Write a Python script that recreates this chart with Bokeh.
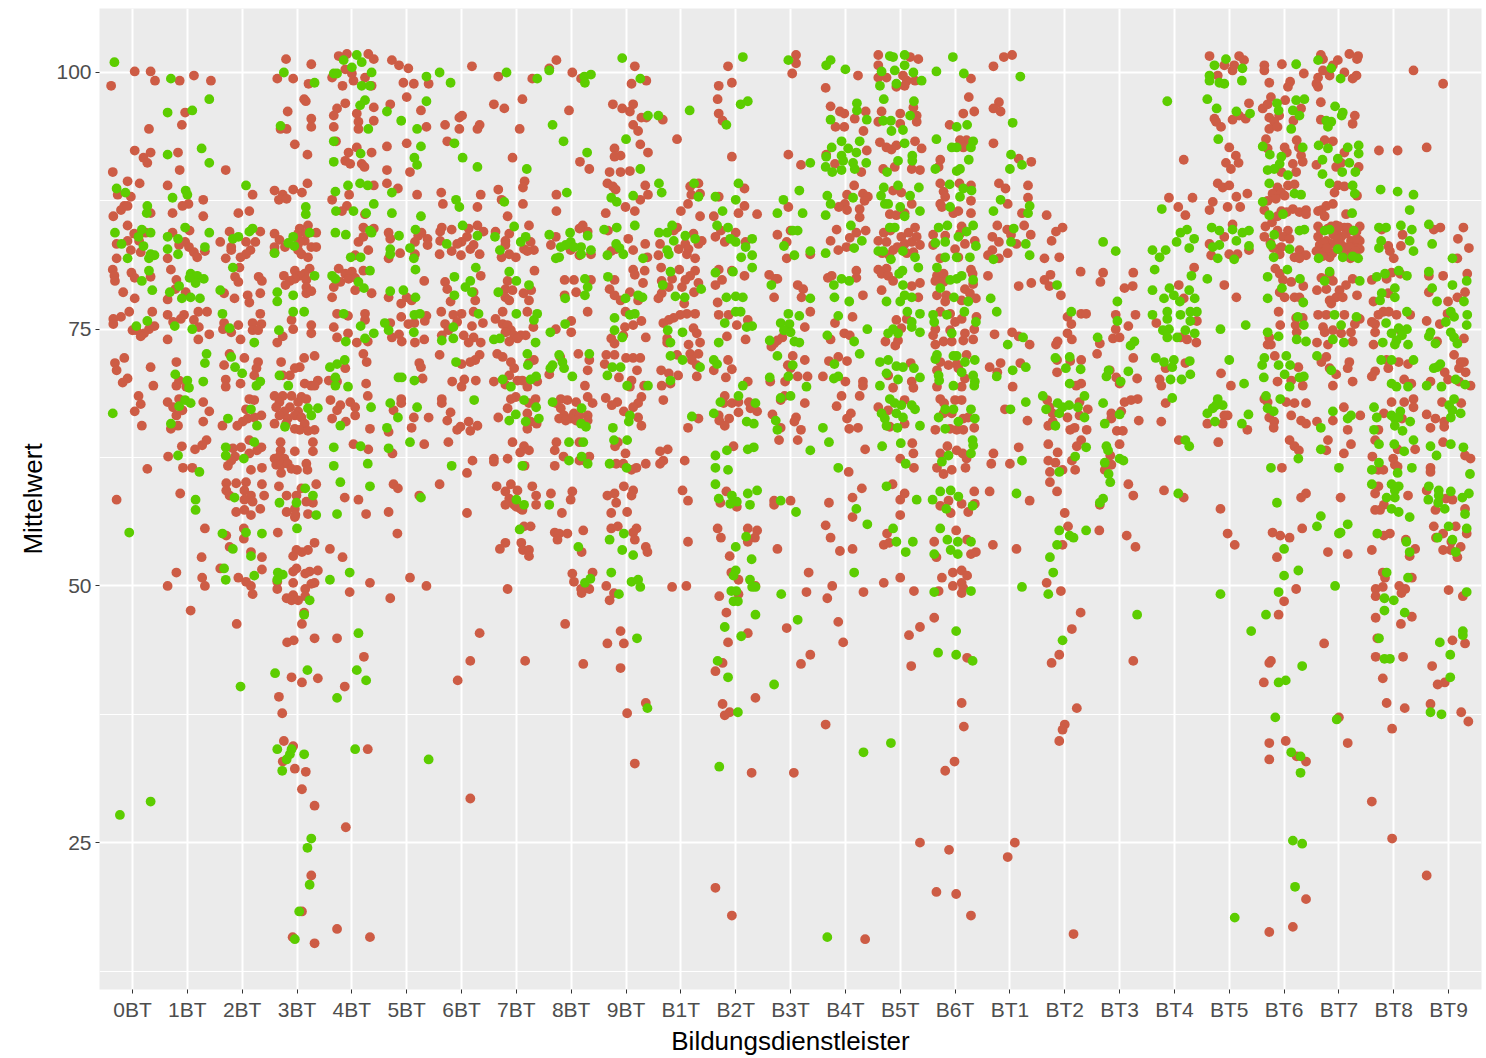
from bokeh.plotting import figure
from bokeh.models import ColumnDataSource, FixedTicker, Range1d
from bokeh.embed import file_html
from bokeh.resources import INLINE

categories = ["0BT","1BT","2BT","3BT","4BT","5BT","6BT","7BT","8BT","9BT","B1T","B2T","B3T","B4T","B5T","B6T","BT1","BT2","BT3","BT4","BT5","BT6","BT7","BT8","BT9"]
y_ticks = [25, 50, 75, 100]
y_minor = [12.5, 37.5, 62.5, 87.5]
x_title = "Bildungsdienstleister"
y_title = "Mittelwert"

red = {}
green = {}

red["0BT"] = [(-.39,98.7),(.04,100.1),(.33,100.1),(.41,99.2),(.3,94.5),(.04,92.4),(.33,92.2),(.2,91.7),(.27,91.2),(-.36,90.3),(-.09,89.4),(.13,89.2),(-.27,88.1),(-.03,87.9),(-.15,87),(-.21,86.6),(-.35,86),(-.09,87),(.33,86.3),(-.09,85.1),(.24,84.4),(.03,84.3),(-.09,83.6),(-.29,83.3),(.12,83.6),(-.03,82.7),(.15,82.5),(-.29,81.9),(-.36,80.8),(-.33,80.2),(-.32,79.7),(-.02,80.5),(.04,80),(.33,80.1),(-.17,78.6),(.04,78),(-.06,76.7),(-.21,76.2),(-.35,76),(-.35,75.5),(.36,76.7),(.4,75.3),(.3,75),(.21,74.6),(.15,74.3),(0,74.9),(.07,74.9),(-.15,72.2),(-.32,71.7),(-.29,71),(.33,71.3),(-.09,70.2),(-.18,69.8),(.38,69.5),(.11,68.5),(.15,67.7),(.04,67),(.17,65.6),(.27,61.4),(-.29,58.4)]
green["0BT"] = [(-.33,101),(.27,87),(.26,86.3),(-.29,88.7),(-.13,88.3),(-.32,84.4),(.17,84.7),(.11,84),(.33,84.4),(-.2,83.3),(.2,83.1),(-.09,81.9),(.3,81.9),(.4,82.2),(.33,82.3),(.3,80.7),(.17,79.7),(.36,78.8),(.07,75.3),(.27,75.8),(-.36,66.8),(-.06,55.2),(-.23,27.7),(.33,29)]

red["1BT"] = [(.12,99.7),(-.14,99.2),(.43,99.2),(-.04,96.1),(-.1,94.9),(-.17,92.2),(-.14,90.5),(-.36,89),(.29,87.6),(.02,87.2),(-.09,87),(.29,86),(-.27,86.3),(.04,84.6),(-.27,84.4),(-.04,83.5),(.03,83),(-.15,83.2),(.12,82.5),(.18,82),(.32,82.6),(-.36,81.9),(-.3,80.8),(-.2,79.8),(-.22,78.9),(-.03,78.6),(-.36,77.9),(-.36,76.4),(-.06,76.4),(-.12,76),(-.26,75.7),(.2,76.7),(.36,76.7),(.12,75.9),(.21,75.2),(.4,74.5),(.2,74),(-.36,74),(-.2,71.8),(-.15,70),(-.2,69.5),(-.02,69.4),(-.36,67.9),(-.15,68.2),(-.26,67.4),(-.09,67.1),(-.2,66.6),(.29,67.9),(.4,67),(.29,66),(-.17,65.6),(-.3,65.3),(-.1,63.6),(.35,64.2),(.27,63.7),(.14,63.3),(-.35,62.6),(-.08,61.5),(.09,61.5),(-.13,59),(.32,55.6),(.26,52.8),(-.2,51.3),(-.36,50),(.27,50.8),(.32,50),(.06,47.6)]
green["1BT"] = [(-.3,99.4),(.4,97.4),(-.36,96.1),(.09,96.3),(-.36,92),(.26,92.6),(.4,91.2),(-.03,88.5),(0,88.1),(-.27,87.8),(-.04,84.9),(.4,84.4),(-.36,84),(-.17,83.8),(.32,83),(-.36,82.8),(-.17,82.3),(.06,80.4),(.12,80),(.18,80.2),(.3,79.9),(.04,80),(.15,79.5),(-.15,79.2),(-.32,78.6),(-.1,78),(.06,78.1),(.23,78),(-.23,75.3),(.09,75),(.35,72.6),(.32,71.7),(-.22,70.6),(0,70),(.29,69.9),(.03,69.3),(-.04,68.1),(.06,67.8),(-.15,67.5),(-.3,65.8),(-.17,62.7),(.22,61.1),(.15,58.4),(.15,57.4)]

red["2BT"] = [(-.3,90.5),(-.07,86.3),(.13,86.5),(.19,88.1),(-.23,84.5),(.33,84.5),(-.4,83.5),(-.2,83),(-.2,82.7),(.07,83.5),(.24,83.5),(.15,82.7),(.07,82.3),(-.03,82),(-.3,81.9),(-.05,81),(-.13,80.1),(-.07,79.6),(.3,80.1),(.36,79.7),(-.33,78.5),(-.14,78),(.1,78.3),(.13,77.6),(.33,78.5),(.33,76.5),(-.33,75.6),(-.35,75),(-.2,74.7),(-.07,75.4),(.19,75.6),(.35,75.5),(.19,74.9),(.29,74.9),(-.03,74),(-.23,72.6),(.04,72.2),(-.33,71.5),(.29,71.8),(.26,71.2),(.22,70.5),(-.3,70.1),(-.3,69.4),(-.03,69.7),(.13,68.2),(.22,68.1),(.07,67.2),(.35,66.6),(.22,66.4),(.1,66.3),(.01,66),(-.09,65.6),(-.36,65.6),(.13,64.2),(.35,63.5),(.27,63.2),(.13,62.9),(-.02,63.5),(-.17,63.4),(-.13,62.6),(-.2,62.2),(-.26,61.7),(.16,61.3),(.36,61.5),(-.29,60),(-.11,60),(.07,60.1),(-.29,59.3),(-.23,58.8),(.04,59.3),(.16,58.8),(.36,59.9),(.4,58.8),(.04,58.4),(.19,58.2),(.33,57.5),(-.11,57.2),(.04,57.4),(.16,56.9),(.03,55.6),(.03,54.6),(-.29,54.9),(-.23,53.8),(.16,53.3),(.36,52.8),(.36,51.6),(-.4,51.7),(-.07,50.8),(.07,50.4),(.16,50),(.19,49.2),(-.1,46.3)]
green["2BT"] = [(.07,89),(-.17,81),(-.17,83.8),(-.07,84),(.13,84.5),(.19,84.8),(-.4,78.8),(-.36,76.5),(-.23,75.1),(.22,73.7),(-.2,72.3),(-.13,71.3),(0,70.7),(.33,69.9),(.26,69.5),(-.26,66.3),(.16,67.2),(.27,65.6),(.22,64),(-.3,63.5),(-.3,62.7),(.03,62.4),(-.14,58.6),(-.36,55.1),(.07,55.2),(.36,55.1),(-.17,53.6),(.16,52.9),(-.33,51.7),(-.3,50.6),(.22,51),(-.03,40.2)]

red["3BT"] = [(-.2,101.3),(.26,100.8),(-.36,99.4),(-.07,99.4),(.21,98.9),(.13,97.4),(.16,97.2),(-.17,96.2),(.26,95.5),(.26,94.7),(-.3,94.5),(-.19,94.5),(-.04,93),(.19,92),(-.41,88.5),(-.07,88.6),(.19,89.2),(.09,88.3),(-.26,88.1),(-.33,87.6),(-.19,87.7),(.05,84.8),(.2,85.1),(.35,84.4),(-.41,84.3),(-.32,83.7),(-.41,83),(-.22,83),(-.41,82.5),(.02,84.3),(.14,83.6),(.02,83.3),(.26,83),(.35,83),(.08,82.3),(.2,82),(.02,82.7),(.17,84.3),(.05,83.6),(-.04,80.7),(.23,80.9),(.14,80.4),(.05,80.2),(-.04,79.9),(-.24,80.2),(-.13,79.7),(-.21,79.3),(.17,79.8),(.17,79.1),(.17,78.5),(.26,78.7),(-.1,75.9),(-.07,75),(-.26,74.3),(-.36,73.7),(.26,75.4),(.26,74.6),(-.29,71.8),(.13,72.2),(.32,72.4),(.05,71.3),(-.04,71.2),(-.13,70.5),(-.26,70.5),(.14,69.7),(.26,69.5),(.38,70),(.32,69.5),(-.41,68.5),(-.26,68.5),(-.1,68.5),(.08,68.4),(-.32,67.9),(.02,67.9),(.17,68.2),(-.38,67.4),(-.13,67.4),(-.23,67),(-.32,66.6),(.02,67),(-.17,66.3),(-.04,66.6),(.08,66.4),(-.2,65.8),(-.41,65.8),(.14,65.8),(-.04,65.3),(.05,65.2),(.32,65.2),(.2,65.1),(-.3,64),(.29,64),(.29,63.1),(-.04,63.1),(-.3,63.2),(-.41,62.4),(-.32,62.6),(-.23,62.4),(-.38,61.8),(-.29,61.8),(-.17,61.9),(-.1,61.4),(0,61.3),(.17,61.9),(.19,61.3),(-.29,61),(-.33,59.7),(.35,59.9),(-.19,58.8),(-.01,58.8),(.08,59.5),(.29,58.1),(.17,58.2),(-.19,57.2),(-.04,57.5),(-.04,56.7),(.2,57),(-.35,55.2),(-.03,56.9),(.32,54.2),(.2,53.5),(.09,53.3),(-.01,53.5),(-.07,52.9),(-.01,51.7),(-.07,51.4),(.38,51.5),(.23,51.4),(.15,51.2),(-.36,50.4),(-.07,50.3),(.32,50.3),(.26,50.2),(.15,49.7),(-.36,49.7),(-.19,48.8),(-.07,49.1),(-.1,48.6),(.02,48.6),(.15,49),(.13,47.4),(.09,46.3),(.32,44.9),(-.06,44.7),(-.18,44.5),(-.1,41.1),(.09,40.6),(.38,41),(-.33,39.2),(-.27,37.6),(-.24,34.9),(-.07,34.4),(-.26,32.9),(-.04,32.2),(.16,31.9),(.09,30.2),(.32,28.6),(.26,21.8),(.09,18.3),(-.08,15.8),(.32,15.2)]
green["3BT"] = [(-.24,100),(.32,99),(-.3,94.8),(.16,86.9),(.16,86.2),(-.07,84),(.23,84.4),(-.16,83.4),(-.05,83.1),(-.41,82.4),(.32,80.2),(-.36,78.6),(-.36,77.7),(-.07,78.3),(-.07,76.7),(.13,76.7),(-.33,74.9),(-.32,70.5),(-.16,69.5),(.2,67.3),(.38,67.3),(.26,66.6),(-.22,65.5),(-.32,58.1),(-.01,58.1),(.15,59.5),(.29,58.8),(.35,56.9),(0,55.6),(-.35,51.3),(-.26,51.1),(-.36,50.6),(.23,48.6),(.13,47.2),(.19,41.8),(-.4,41.5),(-.36,34.1),(-.1,34.1),(-.13,33.6),(-.19,33.1),(.13,33.6),(-.27,32),(.26,25.4),(.19,24.5),(.23,20.9),(.04,18.3),(-.04,15.6)]

red["4BT"] = [(-.24,101.6),(-.09,101.8),(.3,101.8),(.4,101.3),(-.36,99.5),(-.12,100.3),(.03,99.2),(.24,99.5),(-.17,98.7),(.36,98.7),(0,99.9),(-.12,97),(-.27,96.5),(-.33,95.8),(.4,96.6),(.09,96),(.12,95.2),(.4,95.3),(-.33,94.7),(.12,94.5),(-.29,93.3),(.09,92.7),(-.06,92.2),(-.12,91.4),(-.03,91.1),(.36,92.2),(.18,91.1),(.23,90.8),(.4,89),(-.05,88.1),(-.36,87.6),(-.09,87),(-.18,86.5),(.24,86.2),(.21,84.9),(.12,83.5),(.21,84),(.3,82.7),(.06,82.2),(.4,84.8),(-.24,80.9),(0,80.6),(-.12,80.4),(.21,80.7),(-.21,79.6),(-.06,79.9),(-.33,79.1),(.06,80),(-.36,78.1),(.06,78.8),(.36,78.5),(-.27,76.5),(-.07,76.3),(.24,76.5),(.24,75.9),(-.33,75.2),(-.27,74.2),(-.07,74.6),(.09,73.7),(.29,73.8),(.21,72.6),(.27,71.8),(-.12,71.2),(-.42,70),(-.27,69.9),(.26,69.7),(.29,68.5),(-.39,68.1),(-.21,67.6),(-.03,67.9),(.06,67.4),(-.27,67.1),(-.36,66.3),(.06,66.6),(-.11,66),(.33,65.3),(.03,63.8),(.3,63.3),(-.13,58.6),(.12,58.4),(.26,57),(-.4,53.6),(-.17,52.8),(.33,50.3),(-.04,49.4),(-.27,44.9),(.22,43.1),(-.13,40.2),(.29,34.1),(-.11,26.5),(-.27,16.6),(.33,15.8)]
green["4BT"] = [(.09,101.7),(-.15,101.2),(.18,101),(0,100.5),(.36,100),(-.33,99.9),(-.27,99.9),(.18,98.7),(.33,98.7),(.24,97.3),(.15,96.8),(.3,94.5),(-.33,93.3),(.16,92.1),(-.33,91.3),(-.3,88.4),(-.07,89),(.15,89.2),(.29,89),(.4,87.2),(-.29,86.5),(.03,86.5),(.26,86.3),(-.3,84.4),(-.11,84.2),(.33,84.6),(.36,84.4),(-.02,82),(.16,82),(.33,80.7),(-.36,80.2),(-.3,79.9),(.12,79.6),(.22,79),(-.15,76.5),(.16,75.3),(.4,74.6),(-.11,73.8),(.24,74.1),(-.13,72),(-.27,71.6),(-.4,71.3),(-.3,70.3),(-.3,69.5),(-.07,69.4),(.35,67.4),(-.21,65.6),(-.33,63.5),(.16,63.6),(-.33,61.7),(.29,61.9),(-.21,60.1),(.33,59.7),(-.27,57),(-.04,51.3),(-.4,50.6),(.12,45.4),(.09,41.8),(.26,40.8),(-.27,39.1),(.06,34.1)]

red["5BT"] = [(-.27,101.2),(-.14,100.7),(.03,100.4),(-.06,99),(.13,98.9),(.4,98.9),(0,97.6),(-.3,96.9),(.26,96.3),(.36,94.7),(-.36,92.8),(0,93.1),(-.36,90.5),(.06,90.3),(-.36,89.2),(-.16,88.7),(.19,88.1),(-.33,84.4),(-.3,83.8),(.21,84.1),(.27,84.4),(.38,83.8),(.15,83.5),(.38,83.2),(-.12,82.4),(.15,82.3),(-.33,81.9),(.32,79.7),(-.33,78.1),(-.1,77.5),(0,78.1),(.09,77.8),(-.1,76.2),(-.3,75.6),(.03,75.5),(.14,75.6),(.36,76.3),(.33,75.8),(-.27,74.2),(-.14,74.5),(-.09,73.8),(.15,73.7),(.32,74),(.23,71.7),(.26,71.3),(.29,70.2),(-.1,68.2),(-.1,67.8),(-.24,67.1),(.13,66.4),(.4,66.4),(.09,65.4),(-.33,65),(.32,63.8),(-.26,62.9),(-.24,59.9),(-.16,59.5),(.23,58.8),(-.33,57.2),(-.17,55.1),(.06,50.8),(.36,50),(-.3,48.8)]
green["5BT"] = [(.36,99.6),(.36,97.2),(-.36,96.2),(-.1,95.3),(.19,94.5),(.26,92.8),(.14,91.7),(.19,91),(-.27,88.3),(-.27,86.3),(.26,86),(.16,84.7),(-.14,84.1),(.06,82.9),(-.3,82.8),(-.3,82.3),(.13,81.9),(.16,80.8),(-.3,78.7),(-.06,78.8),(.16,78.1),(-.4,75.6),(-.33,74.9),(.13,74.7),(.14,76.4),(.24,76.5),(-.15,70.3),(-.09,70.3),(.14,70),(-.3,67.8),(-.16,66.4),(.19,67.4),(-.36,65.4),(-.33,63.4),(.06,64),(.26,58.6),(.4,33.1)]

red["6BT"] = [(.19,100.6),(-.04,95.6),(.01,95.8),(-.04,94.5),(-.3,94.9),(.33,94.9),(.29,94.5),(-.26,93.3),(-.37,88.3),(.35,88.1),(-.34,87.2),(.29,86.9),(-.36,84.9),(-.18,84.7),(-.39,84.5),(-.39,83.6),(.13,84.8),(.29,85.1),(.4,84.5),(.1,84),(0,83.5),(-.08,83.3),(-.18,82.6),(-.4,82.3),(-.01,82.2),(.16,82.8),(.33,82.3),(.22,83.2),(.35,80.2),(-.3,79.6),(-.26,78.9),(-.2,77.7),(.22,78.6),(.25,77.8),(-.37,76.7),(.22,76.7),(0,76.5),(-.15,76.4),(-.3,75.5),(-.08,75.7),(.39,75.6),(.19,75.3),(-.24,74.9),(-.36,74.4),(.04,74.4),(.22,74.2),(.13,73.7),(.35,73.7),(-.4,72.5),(.33,72.5),(.25,72),(.16,71.8),(0,71.6),(.05,70.1),(-.17,69.9),(.26,70),(0,69.4),(-.36,68.2),(-.36,67.8),(-.2,66.9),(-.26,66.1),(.13,66),(-.02,65.5),(-.08,65.2),(.29,65.6),(.16,65.1),(-.24,64),(.2,62.2),(.1,61),(-.4,59.9),(.1,57.1),(.33,45.4),(.16,42.7),(-.07,40.8),(.16,29.3)]
green["6BT"] = [(-.4,100),(-.2,99),(-.13,93.1),(.02,91.7),(.29,90.8),(-.1,87.6),(-.04,86.9),(.02,85.1),(-.27,83.3),(.29,84.1),(.26,81),(-.13,80.1),(.07,79.1),(.16,79.7),(.19,78.6),(-.13,78.3),(-.15,75.2),(.31,76.5),(-.15,74.1),(-.36,73.9),(-.1,71.8),(.23,68.1),(-.18,61.7)]

red["7BT"] = [(-.33,99.6),(.29,99.4),(.11,97.4),(-.41,96.9),(-.22,96.5),(.06,94.5),(-.07,91.7),(.15,89.4),(.12,88.8),(-.33,88.6),(-.27,87.6),(.12,87.2),(-.16,86),(.23,85.1),(-.38,84.5),(-.13,84.3),(-.2,83.6),(.26,83.5),(.14,82.8),(-.2,83.2),(-.01,82),(-.27,82),(-.13,82.3),(.32,82.7),(.2,82.6),(.33,80.7),(-.16,79.7),(-.2,78.9),(-.07,78.8),(-.2,78.1),(-.13,77.8),(.27,78.8),(.13,78.5),(.23,77.8),(-.25,76.7),(-.38,76),(-.25,75.5),(-.16,75.4),(-.1,74.9),(-.2,74.7),(.08,74.4),(-.04,74.4),(-.13,73.8),(.17,74.4),(.2,76.7),(.31,75.2),(.02,74.1),(-.35,72.6),(-.25,72.3),(-.1,71.8),(-.04,71.2),(-.13,70.5),(.32,72),(.23,71.7),(.02,70),(-.2,69.6),(-.41,69.9),(.11,70),(.2,69.4),(.38,69.9),(-.01,68.4),(-.1,68.2),(.35,68.2),(-.16,67.3),(.23,67.8),(.2,66.8),(-.33,66.4),(.26,66),(.37,65.8),(.2,65.3),(-.07,64),(.14,63.6),(.07,63),(.23,63.2),(-.41,62.4),(-.41,62.1),(-.16,62.4),(.15,61.7),(-.36,59.7),(-.1,59.9),(-.2,59.2),(.02,59.3),(-.13,58.5),(-.2,57.9),(-.04,57.9),(.29,59.7),(.36,58.8),(.36,57.9),(.08,57.5),(0,57.7),(.11,57.4),(.14,55.8),(.26,55.8),(-.2,54.2),(-.3,53.6),(.09,54.2),(.12,53.5),(.23,53.5),(.23,52.9),(-.16,49.7),(.16,42.7)]
green["7BT"] = [(-.18,100),(.19,90.6),(-.22,87.4),(-.04,85),(-.39,84),(.17,84),(.08,83.5),(-.3,82.7),(-.13,80.6),(0,79.7),(.23,79.3),(-.33,78.6),(0,76.5),(.38,76.5),(.32,75.9),(-.3,74.1),(-.41,74),(.35,73.7),(.2,72.6),(.21,71.5),(.36,70.4),(.26,70.1),(-.25,70.1),(-.1,69.4),(.14,68.1),(.36,67.4),(.41,66.3),(-.01,66.7),(-.13,66.1),(.17,66),(.11,61.7),(0,58.4),(.14,57.9),(.06,55.5),(.38,99.4)]

red["8BT"] = [(-.27,101.2),(-.4,100.4),(.02,100),(.18,99.4),(-.04,96.3),(-.27,88.1),(-.27,86.5),(.33,90.6),(.16,91.3),(.21,85.1),(.3,84.5),(-.28,84),(-.37,83.2),(-.01,82.7),(.15,82.2),(.36,82.3),(.15,84.8),(-.12,79.8),(.05,79.8),(.36,79.8),(-.12,78.3),(.09,78.6),(.3,76.7),(0,75.8),(-.28,75),(0,74.7),(.13,72.6),(-.2,72.3),(.33,72),(.3,71),(-.4,70.6),(.25,69.5),(-.19,68.2),(-.07,68.1),(.09,67.9),(.3,68.4),(.39,67.8),(-.28,67.8),(-.19,67.3),(-.13,66.6),(-.22,66.3),(.05,66.8),(-.01,66.3),(.15,66.6),(.3,66.6),(-.1,66.1),(.09,66.1),(.3,66.1),(-.27,64),(-.3,63.2),(.15,64),(-.14,62.6),(.33,62.6),(.15,62.2),(.24,62.2),(-.3,61.7),(-.37,59),(.02,59.2),(-.01,58.4),(-.17,57.1),(-.3,55.2),(-.22,55.1),(-.07,55.1),(-.25,54.5),(.22,55.4),(.19,53.3),(.02,51.2),(.05,50.4),(.39,51.3),(.18,49.7),(.19,49.3),(.33,49.7),(-.11,46.3),(.22,42.4)]
green["8BT"] = [(-.4,100.2),(.24,99.6),(.36,99.8),(.25,99),(-.34,94.9),(-.14,93.3),(.29,92.2),(-.08,88.3),(-.4,84.2),(-.02,84.4),(.3,84.1),(-.19,83),(-.1,83.2),(-.01,83.5),(-.28,81.9),(-.22,82),(.18,83),(.05,83),(.36,82.7),(.18,82.3),(.25,79.9),(.3,79.1),(.25,78.3),(-.11,78),(-.11,75.5),(-.38,74.7),(-.22,72.5),(-.16,71.8),(-.13,71.2),(-.34,71.5),(-.38,71.2),(.33,72.6),(.02,70.4),(-.34,67.9),(.19,67.3),(.18,65.8),(.27,65.5),(-.04,64),(.22,64),(-.04,62.2),(.19,62.6),(.3,61.9),(-.4,57.9),(.13,53.8),(.25,50.3),(.35,50.7)]

red["9BT"] = [(.16,100.6),(.1,98.9),(.37,99.2),(-.24,96.9),(-.07,96.5),(.13,96.9),(.07,96.2),(.37,95.6),(.28,95.6),(.13,94.9),(.22,94.3),(.26,93),(.4,92.2),(-.21,92.6),(-.21,91.8),(-.1,91.9),(-.3,90.3),(-.1,90.3),(.07,90.4),(-.34,89.2),(-.24,88.9),(-.19,88.6),(.35,89),(.4,88.1),(.26,87.6),(-.01,86.9),(.16,86.5),(-.37,86.3),(-.33,84.6),(.04,83.8),(.35,83.3),(-.18,82.8),(-.27,82.6),(.13,82.7),(.39,82),(.13,80.8),(.34,80.7),(.16,80.3),(.31,79.5),(-.21,79.8),(-.3,78.9),(-.21,78.3),(-.1,77.8),(.07,78.6),(.22,77.8),(-.01,76.7),(.28,75.8),(.13,75.4),(-.02,75.2),(-.05,74.4),(-.27,74.1),(-.21,73.6),(.36,74.2),(-.36,72.5),(-.21,72.5),(0,72.2),(.13,72.2),(.26,72.2),(-.39,71.6),(.2,71),(.1,70),(-.13,70.3),(.33,69.5),(.07,69.4),(-.37,68.3),(-.16,67.9),(-.26,67.6),(.28,68.4),(.22,67.8),(.13,67.4),(-.04,67),(.22,66.4),(.28,65.6),(-.15,64),(-.2,63.6),(-.01,62.9),(-.18,61.9),(-.05,61.9),(.19,61.5),(.1,61.3),(.36,61.9),(-.04,59.7),(.13,59.3),(.1,58.8),(-.34,58.8),(-.21,59),(-.18,58.1),(-.27,57.1),(.02,57.2),(-.27,55.6),(-.15,55.8),(.19,55.6),(.13,55.2),(.16,54.5),(.36,53.8),(.39,53.3),(-.36,50),(-.22,49.3),(-.3,48.6),(-.1,45.6),(-.34,44.4),(-.04,44.4),(-.1,42),(.36,38.6),(.02,37.6),(.16,32.7)]
green["9BT"] = [(-.07,101.4),(.26,99.4),(.4,95.8),(0,93.5),(.26,90.6),(.13,88),(-.27,87.8),(-.17,87.4),(.16,85.1),(-.4,84.7),(-.17,84.9),(-.18,83.3),(-.12,82.9),(-.05,82.3),(-.34,82.2),(.31,81.9),(-.33,80.1),(-.01,78),(.22,78.3),(.3,78.1),(-.21,76.1),(.07,76.4),(.16,76.5),(-.21,74.9),(-.07,74.2),(-.25,71.3),(-.1,71.3),(-.34,70.5),(.02,69.5),(.4,69.5),(.07,66.6),(.05,66),(-.24,65.4),(-.22,64.2),(.02,64.2),(-.3,61.9),(.01,61.5),(-.04,55.1),(-.3,54.5),(-.07,53.5),(.13,53),(-.27,51.3),(.1,50.4),(.22,50.6),(.26,49.9),(-.13,49.2),(.2,44.9),(.39,38.1)]

red["B1T"] = [(-.33,95.4),(-.07,93.5),(.32,89.2),(.17,88.9),(.35,88.2),(.19,88.1),(.13,87.2),(0,86.5),(.35,86),(-.07,84.9),(-.13,84.6),(.23,84.3),(.38,83.6),(-.38,83.3),(.32,83.3),(.08,83.3),(-.04,82.8),(.14,82.8),(-.41,82.2),(.26,81.9),(.11,82.3),(-.36,81),(-.03,80.8),(.26,80.7),(.17,80.2),(.08,79.8),(-.16,79.9),(-.35,79.7),(.02,79.1),(-.22,79.1),(.32,79.5),(-.35,78.5),(-.41,78),(.24,78.6),(.06,77.5),(.26,76.5),(.11,76.5),(-.01,76.4),(-.13,76.1),(-.22,75.9),(-.32,75.6),(.23,75.1),(.29,74.6),(.35,73.7),(-.25,74.1),(-.25,73.7),(.14,73.5),(-.07,72.5),(.17,72.6),(.32,72.6),(.2,72),(.29,71.5),(-.36,71),(-.22,70.7),(-.05,70.5),(.29,70.4),(-.35,69.5),(-.19,69.7),(-.32,68.1),(.32,66.3),(.13,65.4),(-.24,63.3),(-.38,63.1),(-.32,62.2),(-.38,61.9),(.07,62.2),(.03,59.3),(.13,58.3),(.13,54.3),(-.16,49.9),(.1,50)]
green["B1T"] = [(.16,96.3),(-.41,95.8),(-.4,89.2),(-.35,88.3),(.24,89.2),(.32,87.9),(-.16,85.1),(-.4,84.4),(-.25,84.4),(-.13,83.6),(.08,84.1),(.26,83.8),(-.22,82.3),(-.25,82.7),(-.19,80.6),(-.33,79.3),(.37,78.9),(-.1,78.2),(.07,78.1),(-.24,74.9),(.03,74.7),(-.19,73.7),(-.19,72.4),(.03,72),(.35,71.3),(-.19,70),(.2,66.5)]

red["B2T"] = [(-.14,100.6),(-.07,99),(-.31,98.7),(-.33,97.4),(-.31,96),(-.24,95.3),(-.07,91.8),(.16,88.7),(-.31,87.9),(.16,87),(.05,86.3),(.39,86.2),(-.4,86),(-.27,84.6),(0,84.4),(-.37,84),(-.2,83.5),(.18,83.5),(.16,80.2),(-.31,80.8),(-.25,79.8),(-.37,79.3),(-.07,80.7),(-.33,77.6),(-.31,76.4),(-.13,76.4),(.22,75.9),(.02,75.4),(-.16,74.3),(.18,74),(-.14,72),(-.07,71.1),(-.4,71),(-.18,70.3),(.22,69.9),(-.2,68.5),(-.22,67.8),(-.07,67.8),(.05,67.9),(.24,67.9),(.27,67.3),(.39,67),(.05,66.9),(-.31,66.6),(-.12,66.3),(-.3,66.1),(-.2,65.6),(-.04,63.6),(-.17,59.2),(-.28,58.1),(.02,57.7),(-.33,55.6),(-.27,54.7),(.22,55.6),(.39,55.4),(.35,54.7),(.22,54.3),(-.11,52.9),(-.08,51.3),(.05,50.6),(.36,50),(.05,49.2),(-.3,49),(-.17,47.4),(.22,45.4),(-.14,44.5),(-.24,42.5),(-.37,41.7),(.36,39.1),(-.24,38.5),(-.11,37.7),(-.2,37.4),(.29,31.8),(-.37,20.6),(-.07,17.9)]
green["B2T"] = [(.13,101.5),(.22,97.2),(.09,96.9),(-.17,94.9),(.05,89.2),(-.37,87.9),(0,87.6),(-.24,86.5),(-.34,85.1),(-.14,84.9),(-.1,83.8),(0,83.5),(.3,83.8),(.18,83),(.3,82.2),(.1,82),(.3,81),(-.37,80.5),(-.05,80.6),(-.17,78.1),(0,78.2),(.13,78.1),(0,76.7),(.09,76.7),(-.2,75.6),(.2,75.2),(.3,75.3),(-.31,73.7),(-.4,72),(-.34,71.6),(.13,69.5),(-.28,67.9),(.05,68.5),(.36,67.8),(-.4,66.8),(.2,66),(.33,65.8),(-.37,62.7),(-.16,63.2),(.22,63.3),(.33,63.5),(-.37,61.5),(-.14,61.3),(-.37,59.9),(.22,59),(.39,59.3),(-.31,58.5),(-.1,58),(.02,58.2),(-.07,58.8),(.26,57.9),(0,53.8),(.29,52.6),(0,51.5),(-.04,51),(.26,50.6),(.3,49.9),(.36,49.9),(-.08,49.5),(.01,49.5),(-.04,48.5),(.04,48.5),(.36,47.2),(-.2,46),(.1,45.1),(-.33,42.7),(-.14,41.1),(.04,37.7),(-.3,32.4),(.19,54.8)]

red["B3T"] = [(.1,101.7),(.1,100.9),(.03,99.9),(-.04,92),(.19,91),(-.04,86.9),(0,84.6),(-.24,84.2),(-.07,83.5),(.36,82.3),(-.07,81.9),(-.39,80.3),(-.28,79.9),(-.24,79.9),(.13,79.3),(.23,78.9),(.2,78.1),(-.3,78.1),(.36,76.7),(.26,75.2),(-.15,74.2),(-.24,73.9),(-.3,73.6),(-.35,73.3),(.04,72.4),(.26,72),(-.05,71.5),(0,71.2),(-.1,69.9),(.13,70.4),(.31,70.4),(-.37,69.9),(-.11,68.5),(-.18,68.1),(.26,67.8),(-.33,66.7),(.1,66.4),(.07,66),(-.18,65.4),(.19,65.2),(-.21,64.2),(.13,64.2),(-.3,58.3),(-.3,57.9),(0,58.3),(-.24,53.6),(.33,51.3),(.29,49.4),(-.07,45.9),(.36,43.3),(.19,42.4),(.06,31.8)]
green["B3T"] = [(-.04,101.2),(.36,91.2),(.16,88.5),(-.13,87.6),(-.24,86.3),(.22,86.3),(.13,84.6),(.04,84.6),(-.12,83.1),(.36,82.6),(.07,82.2),(-.35,79.3),(.36,78),(-.04,76.5),(.16,76.3),(-.18,75.6),(-.02,75.5),(-.12,74.9),(0,74.7),(-.38,73.9),(.07,73.8),(.16,73.7),(-.24,72.4),(.04,71.5),(-.04,70.4),(-.38,70.3),(.29,69.4),(-.18,68.3),(0,68.5),(-.27,66.1),(-.24,65.2),(.36,63.2),(-.18,58.3),(.1,57.2),(-.17,49.2),(.13,46.7),(-.3,40.4)]

red["B4T"] = [(.23,99.7),(-.36,98.5),(-.27,96.7),(-.1,96.2),(-.02,96),(.37,96.2),(.17,95.5),(-.18,94.7),(-.02,94.7),(.33,94.3),(.39,92.4),(-.19,91.1),(.29,90.3),(-.35,92),(.16,89),(.03,88.1),(.32,88.2),(.41,87.9),(.35,87.5),(-.01,87.2),(-.12,86.9),(.03,86.6),(.26,86.7),(.26,85.9),(-.16,84.7),(.37,84.6),(.2,84.4),(.08,83.9),(-.27,83.6),(.02,83),(-.13,82.7),(-.25,80.2),(-.32,80),(.2,80.7),(.2,80),(.32,78.3),(.13,76.2),(-.19,75.6),(-.02,74.6),(.08,74.4),(-.27,74),(-.13,72.3),(-.3,71.9),(.03,71.9),(-.41,70.4),(0,69.9),(.32,69.9),(.32,69.5),(-.07,68.5),(.26,68.5),(-.16,67.5),(.1,66.8),(.03,66.3),(.23,65.4),(.07,65.3),(.36,63.3),(.06,61.1),(.3,59.5),(.13,58.6),(-.3,58.1),(.13,56.7),(-.36,55.9),(-.27,54.7),(-.1,53.4),(.13,53.6),(-.24,50),(-.33,48.8),(.33,49.4),(-.13,46.5),(-.04,44.5),(-.36,36.5),(.36,15.6)]
green["B4T"] = [(-.35,100.7),(-.27,101.2),(0,100.3),(.21,97),(.21,96.3),(-.27,95.4),(.39,95.4),(-.07,93.3),(.26,93.3),(-.25,92.7),(.05,92.6),(.2,92.2),(-.35,91.8),(-.07,91.9),(-.04,91.4),(.14,91.2),(.38,91.2),(-.36,90.8),(-.07,90.5),(-.24,90.3),(.17,90.6),(-.33,88),(-.27,87.2),(.14,87.8),(-.36,86.1),(.1,85.1),(.3,83.6),(.16,82.9),(-.36,82.4),(-.07,79.9),(.07,79.7),(-.21,79.3),(-.2,78.1),(.07,77.7),(-.13,76.3),(.4,75),(-.33,74.4),(.16,73.8),(.26,72.6),(-.2,71.6),(-.13,70.4),(-.21,70.2),(-.41,65.4),(-.3,64),(-.13,61.5),(.2,57.5),(.4,56),(.16,51.3),(.33,33.8),(-.33,15.8)]

red["B5T"] = [(-.4,101.7),(-.4,100.7),(-.4,99.5),(.18,101.5),(.33,101.3),(-.25,99.5),(.05,99.7),(.12,99.2),(-.07,98.6),(.27,99.2),(.08,98.7),(-.34,96.2),(0,96),(.24,96.6),(.3,95.8),(.3,95.2),(-.4,95.2),(0,95),(-.37,93.2),(-.25,92.7),(-.16,92.5),(-.07,92.9),(.27,93.3),(.39,92.6),(-.1,90.8),(-.31,90.6),(.21,90.6),(.36,90.5),(-.13,88.5),(.02,88.3),(.21,87.2),(-.19,86.2),(-.07,86.1),(.08,86.3),(.27,84.9),(-.4,83.6),(-.25,83.5),(.02,84),(-.13,82.7),(.08,83.3),(.21,83.5),(.36,83.2),(.24,82.5),(-.4,80.8),(-.25,80.9),(-.34,80.4),(-.22,80.2),(-.13,79.7),(.21,79.2),(.36,79.5),(-.34,78.8),(.33,78.1),(.12,76),(-.07,75.9),(.02,75.1),(-.27,73.8),(-.04,73.9),(-.09,73.4),(.19,71.7),(-.22,70.5),(-.13,69.3),(.21,69.9),(.24,69.3),(.08,68.1),(-.4,67.4),(-.22,67.1),(.08,65.8),(-.19,65.5),(.22,63.9),(.24,62.9),(0,62.4),(.25,61.5),(-.14,59.9),(.08,59),(0,58.4),(0,56.9),(-.24,55.1),(-.3,54),(-.2,54.2),(-.3,50.3),(0,50.8),(.25,49.5),(.36,46),(.16,45.2),(.2,42.2),(.36,25),(-.3,84.4),(-.18,84.6),(-.05,83),(.15,84.4),(-.33,82.4),(-.2,82.2),(.3,84),(.12,82.4)]
green["B5T"] = [(-.19,101.6),(.08,101.7),(-.13,101.5),(.08,100.7),(-.1,100.2),(-.34,100.1),(.24,100),(-.37,98.7),(-.07,98.9),(.39,99.2),(-.3,97.4),(.25,97.2),(.18,95.8),(-.31,95.3),(-.17,95.3),(-.16,94.3),(.05,94.4),(.08,93.1),(.22,91.9),(.22,91.4),(-.04,91.4),(-.24,90.3),(-.3,88.8),(-.04,89),(.34,88.8),(-.35,88),(-.28,87.2),(-.22,87.2),(.18,88),(0,86.9),(.36,86.5),(.08,86),(-.19,84.9),(-.1,84.9),(-.4,82.6),(-.31,82.6),(.05,82.6),(.27,82),(-.17,81.8),(.33,81),(.04,80.7),(-.02,80.4),(.05,79.3),(.08,78.3),(.21,78.1),(-.25,77.7),(0,77.7),(.13,76.7),(.36,76.5),(.21,75.7),(.21,75.2),(.36,74.7),(-.13,75),(-.22,74.6),(-.04,74.6),(-.37,71.8),(-.22,72),(-.07,71.4),(.05,71.3),(-.25,70.7),(.25,71.2),(-.04,70.1),(.36,70.3),(-.37,69.5),(-.19,68.2),(-.1,67.8),(.02,67.6),(.21,67.6),(.27,67.2),(-.07,66.8),(-.34,66.8),(.05,66.4),(-.28,66.3),(.36,65.6),(-.05,65.4),(-.25,65.6),(-.33,63.6),(.01,63.9),(.1,61.9),(-.25,59.7),(.3,58.4),(-.13,55.6),(-.07,54.3),(.23,54.3),(.1,53.3),(-.17,34.7)]

red["B6T"] = [(.29,99.4),(.25,97.6),(.15,96),(.35,96.2),(-.1,94.9),(.21,93.4),(.09,93.4),(.15,92.7),(-.27,91.5),(-.3,90.8),(-.27,89.2),(-.21,88.4),(-.18,87.9),(-.24,86.9),(-.27,87.2),(.29,89),(.29,87.5),(.08,89.2),(-.03,86.3),(.06,86.5),(.29,86.3),(.12,85),(-.4,84.2),(-.18,84.1),(.09,84.3),(.18,83.3),(0,82.8),(.36,83.6),(-.4,83.2),(-.27,81.9),(.06,82),(.29,80.8),(.32,80.4),(-.33,80.2),(-.21,80.4),(-.36,79.7),(-.21,79.6),(.33,79.4),(.18,78.9),(.27,78.5),(-.33,78.3),(-.16,78.3),(-.18,77.7),(.12,77.8),(.38,78),(-.27,76.7),(-.09,76.5),(.39,76.2),(0,75.7),(.12,76),(-.36,75),(-.09,74.9),(.35,75),(-.4,74.4),(.18,74.6),(.33,74),(-.36,73.5),(-.21,73.8),(-.06,73.8),(.15,73.9),(.21,72.5),(-.27,71.8),(.03,71.6),(-.12,71.5),(-.33,71),(.06,71.2),(.18,70.2),(-.33,69.4),(.12,69.4),(-.27,68.2),(-.2,67.8),(0,68.1),(.12,68.1),(-.21,66.8),(-.06,66.8),(.15,66.3),(.24,66.4),(-.36,65.2),(-.09,65.3),(.03,65.2),(.15,65.2),(.35,65.4),(-.14,63.6),(-.27,62.9),(.03,63.2),(.14,62.9),(.21,62.4),(-.33,61.5),(-.06,61.3),(-.21,60.9),(.19,61.5),(.35,59.2),(-.12,58.3),(-.27,57.8),(.12,58),(.36,58),(-.08,57.1),(.24,57.2),(.02,55.4),(-.38,54.3),(.22,54.5),(-.34,52.8),(.29,53.1),(.38,53.3),(-.04,51.3),(.12,51.5),(.22,51),(-.24,50.8),(-.04,50),(.12,50.3),(.15,49.8),(-.3,49.5),(.12,49.3),(-.38,46.9),(.22,43),(.12,38.6),(.16,36.3),(-.01,32.9),(-.18,32),(-.11,24.3),(-.34,20.2),(.02,20),(.29,17.9)]
green["B6T"] = [(-.04,101.5),(-.34,100.1),(.16,99.9),(.03,94.7),(.22,94.9),(-.34,93.5),(-.06,92.7),(.03,92.7),(.33,93.3),(.29,92.7),(.25,91.5),(-.36,90.6),(.03,90.4),(.09,90.6),(-.1,89.1),(.15,88.7),(.09,87.9),(.3,88.5),(-.09,86.9),(-.3,84.9),(-.14,85.1),(.33,85.1),(.06,84),(-.36,83.4),(-.18,83.5),(.21,84.5),(.38,83.1),(-.18,82),(.27,82),(.03,82),(-.33,81),(-.09,79.8),(.03,79.9),(.12,80.2),(.33,79.8),(-.27,79),(-.02,78.1),(.24,77.7),(-.4,76.4),(-.15,76.4),(.17,76.7),(-.38,75.7),(.38,75.7),(-.06,74.6),(-.33,72.5),(-.36,72.1),(-.03,72.4),(.03,72.4),(.18,71.8),(.36,72),(.12,70.8),(-.3,70.5),(.33,70.5),(-.29,70),(.36,69.9),(-.03,69.5),(.35,69.5),(-.18,67.2),(-.03,67.2),(.29,67.2),(-.3,66.4),(.06,66),(-.18,65.3),(.36,66.3),(.32,64.2),(.33,63.7),(.29,62.9),(-.12,62.7),(-.24,62.1),(-.27,59.2),(-.08,59.3),(.06,58.7),(-.41,58.4),(.32,57.8),(-.16,57.5),(-.27,55.6),(-.14,54.5),(.05,54.3),(.29,54.3),(-.08,53.5),(.05,53.1),(-.38,53.1),(.29,49.5),(-.38,49.4),(.02,45.6),(-.31,43.5),(.02,43.3),(.32,42.7)]

red["BT1"] = [(.04,101.7),(-.11,101.5),(-.3,100.6),(-.2,97.1),(-.3,96.5),(-.17,96.2),(-.3,93.1),(.16,91.6),(.39,91.3),(-.2,89.2),(-.08,88.7),(.33,89),(-.04,87.2),(.33,87.8),(.22,86.3),(-.23,85.1),(-.05,84.7),(.02,84.2),(.26,85.1),(.38,84.2),(-.32,84),(-.2,83.5),(.12,83.3),(-.32,82.7),(-.4,82.2),(-.2,81.9),(-.04,82.4),(-.4,80.2),(.16,79.2),(.39,79.5),(.04,74.7),(.16,74.3),(.36,73.5),(-.28,74.5),(.19,71.7),(-.17,71.7),(-.37,71.3),(-.23,70.8),(.05,69.4),(-.09,67.2),(.32,66.1),(-.3,62.9),(.16,63.5),(-.34,61.9),(0,61.9),(-.37,59.2),(.36,58.3),(-.31,54),(.12,53.6),(.09,25),(-.04,23.6)]
green["BT1"] = [(.19,99.6),(.05,95.1),(.02,92),(.22,91),(0,90.6),(-.17,87.6),(-.3,86.5),(.36,87),(.33,86.3),(.07,84.8),(.02,83.5),(.29,83.3),(.36,82.2),(-.3,81.8),(-.35,78),(-.24,76.7),(.24,74.2),(-.04,73.5),(.29,71.3),(.05,71),(-.24,70.4),(.29,67.9),(.01,67.2),(.22,62.2),(.12,59),(.22,49.9)]

red["BT2"] = [(-.33,86.1),(-.04,84.9),(-.16,84.5),(-.24,83.6),(-.37,81.9),(-.1,82),(.29,80.6),(-.26,80.3),(-.37,79.8),(-.28,79.2),(-.07,78.3),(.05,76.2),(.3,76.5),(.39,76.5),(.12,75.5),(.05,74.6),(.13,74),(-.13,73.8),(-.16,73.5),(-.14,72),(.1,71.9),(.3,72),(-.14,70.8),(.3,69.7),(.21,69.5),(-.32,68.1),(-.28,67.4),(-.22,66.8),(.27,67.9),(.42,67.2),(.05,66.4),(.27,66.6),(-.22,66),(-.3,65.6),(.1,65.2),(.18,65.4),(.4,65.2),(-.3,63.8),(-.13,63),(.3,64.2),(.22,63.6),(-.3,62.2),(-.17,62),(.13,62.2),(-.27,61.1),(-.04,61.3),(.19,61.3),(-.27,60.1),(-.14,59.2),(0,57.1),(.06,55.8),(-.04,54),(-.33,50.3),(-.07,49.5),(.29,47.4),(.13,45.8),(-.1,43.3),(-.24,42.5),(.22,38.1),(0,36.5),(-.04,36),(-.1,34.9),(.16,16.1)]
green["BT2"] = [(-.14,79.3),(.12,76.7),(-.4,68.5),(-.13,67.8),(-.34,67.2),(-.04,67.4),(.08,67.6),(.36,68.5),(.24,67.4),(-.1,66.8),(.36,66.4),(-.17,65.6),(.39,63.5),(.19,62.6),(-.1,61.1),(-.17,72.2),(.09,72.3),(.02,71.2),(.29,71.1),(.09,69.7),(-.1,55.4),(.09,54.9),(.16,54.7),(-.14,54),(-.27,52.8),(-.21,51.3),(-.3,49.2),(-.04,44.7),(.39,55.4)]

red["BT3"] = [(-.3,80.5),(-.35,79.6),(.09,79),(.24,79.2),(.25,80.5),(-.07,76.4),(.29,76.4),(-.07,75),(.16,75.3),(-.12,74.1),(0,74.2),(-.36,73.6),(-.41,72.6),(.25,72.2),(-.18,71),(-.06,70.3),(0,69.7),(.32,70.2),(.09,67.9),(.21,68.1),(.33,68.2),(.03,67),(-.15,66.8),(-.15,66.3),(.35,66.1),(-.05,65.1),(.06,65.1),(0,63.8),(-.17,62.7),(-.15,61.8),(-.27,61.3),(.16,59.9),(.25,58.8),(-.36,57.9),(-.37,55.4),(.13,54.9),(.29,53.8),(.25,42.7)]
green["BT3"] = [(-.3,83.5),(-.07,82.6),(-.04,77.7),(-.04,75.8),(-.4,74.2),(.27,73.8),(.2,73.4),(-.2,71),(-.24,70.4),(.02,69.9),(.16,70.9),(-.3,67.8),(0,66.7),(-.27,65.8),(-.24,63.6),(-.21,63.2),(-.27,62),(0,62.4),(.07,62.2),(-.2,60.9),(-.17,60.1),(-.3,58.5),(-.36,58.1),(.32,47.2)]

red["BT4"] = [(.17,91.5),(-.1,87.8),(.33,87.8),(.07,86.9),(.2,86.1),(.36,81),(.08,79.3),(.17,78),(-.33,75.6),(.41,75.8),(.11,74.2),(.23,74),(.4,73.7),(.2,71.7),(-.16,71.2),(-.27,70.1),(-.24,69.5),(-.16,67.8),(-.24,66),(.08,64.2),(-.19,59.3),(.17,58.6)]
green["BT4"] = [(-.13,97.2),(-.23,86.7),(.23,84.7),(.11,84.4),(.04,83.5),(.36,83.8),(.27,82.9),(-.4,82.7),(-.16,82.7),(-.27,82),(-.36,80.8),(.31,80.2),(-.4,78.8),(-.09,79),(.27,78.8),(-.19,78),(-.01,78.3),(.1,77.7),(.37,78),(-.4,76.4),(-.13,76.7),(-.13,76),(.11,76.4),(.29,76.7),(.41,76.7),(.29,75.8),(-.1,75),(-.21,74.9),(-.13,74.2),(.2,74.9),(.05,74.2),(.37,74.6),(-.34,72.2),(-.19,71.8),(-.01,72),(-.04,71.3),(.28,71.9),(.29,70.6),(-.07,70.1),(.13,70.1),(-.04,68.3),(.2,64.2),(.27,63.6),(.07,59)]

red["BT5"] = [(-.36,101.6),(.18,101.6),(.27,101.2),(-.09,100.7),(.09,100.7),(.06,100.2),(-.21,99.7),(.36,97),(.18,95.8),(.06,95.4),(.3,95.5),(-.27,95.5),(-.24,95.2),(-.15,94.7),(0,92.7),(.12,91.9),(-.06,91.2),(.17,91.2),(.03,90.6),(-.21,89.2),(-.12,88.8),(0,89),(.33,88.2),(.13,87.9),(-.3,87.4),(-.36,86.6),(-.03,86.9),(.2,86.9),(.06,85.2),(-.09,84),(-.36,83.3),(.15,82.3),(0,82.3),(-.33,82.2),(.36,82.7),(-.09,79.3),(.13,78.1),(-.15,70.7),(.03,69.5),(-.09,66.6),(-.03,66.6),(-.4,65.8),(-.12,65.8),(.33,65.2),(-.2,64),(-.16,57.5),(-.03,55.1),(.1,54)]
green["BT5"] = [(-.06,101.3),(-.27,100.7),(.24,100.4),(-.36,99.7),(-.36,99.2),(-.18,99),(-.09,98.9),(.23,99.2),(-.4,97.4),(-.23,96.5),(.13,96.2),(.38,96),(-.2,93.5),(-.4,79.9),(-.32,84.9),(-.18,84.6),(.06,84.7),(.36,84.6),(.24,84.4),(.13,83.6),(-.3,83),(-.18,83.2),(.36,83.1),(-.21,81.9),(.09,81.8),(-.16,75),(.3,75.4),(0,72),(.27,69.7),(-.21,68.2),(-.24,67.6),(-.3,67.3),(-.12,67.6),(-.4,66.8),(.35,66.7),(-.26,66),(.23,65.8),(-.16,49.2),(.4,45.6),(.1,17.7)]

red["BT6"] = [(-.36,100.7),(-.36,100.2),(-.04,100.8),(.36,99.9),(-.27,99),(.11,99.1),(.07,98.6),(-.24,97.6),(.02,97.3),(-.39,96.5),(-.3,96.9),(-.27,95.6),(-.09,95.8),(-.18,95.2),(.31,96.5),(.17,95.3),(-.27,94.5),(-.12,94.7),(-.33,93.5),(-.3,92.6),(.01,92.7),(.23,93.4),(.27,92.7),(.05,92.2),(.31,91.9),(.34,91.3),(.16,91.1),(-.05,90.3),(.22,90.3),(-.12,88.8),(.07,89),(.19,89.1),(-.21,88.2),(-.05,88.3),(-.3,87.5),(-.15,87.7),(.01,88),(-.36,86.6),(-.05,86.5),(.16,86.7),(.28,86.4),(.4,86.6),(.4,86.2),(-.34,85),(-.36,84),(.07,84.6),(-.02,84),(.1,83.8),(-.05,83),(.28,82.7),(.4,82.2),(-.08,82.3),(.19,82),(.28,81.9),(-.16,80.9),(-.08,80.4),(-.02,79.8),(.13,79.6),(.35,79.2),(-.08,78.6),(.01,78.1),(.19,78.1),(.28,78.1),(-.1,76.7),(.22,76.1),(.34,76.1),(-.07,75.4),(.21,75.4),(.23,74.7),(-.27,74.2),(-.3,73.5),(-.24,73.5),(-.17,72.4),(.26,71.3),(-.12,69.9),(.13,70),(.34,69.5),(-.36,68.2),(-.3,67.9),(.04,67.9),(.19,67.8),(.4,67.8),(.13,66.6),(-.27,66.4),(-.18,66),(.31,66.1),(.4,65.8),(-.19,65.4),(.1,64.2),(.19,63.6),(.27,63.2),(-.04,61.5),(.31,58.6),(.4,59),(-.21,55.2),(-.07,54.9),(.1,54.7),(.33,55.6),(-.13,52.8),(.22,49.7),(0,48.5),(-.1,47.2),(-.24,42.7),(-.27,42.5),(-.37,40.6),(.03,34.9),(-.27,34.7),(-.27,33.1),(.23,33.4),(.4,32.9),(.4,19.5),(.16,16.8),(-.27,16.3),(-.22,85.4),(-.12,86),(-.25,83.4),(-.12,84.6),(-.2,82.9),(.05,86.4)]
green["BT6"] = [(.22,100.8),(-.13,97),(-.1,96.3),(.22,97.3),(.37,97.4),(.16,96.3),(.28,95.8),(.13,94.5),(-.39,92.8),(.34,92.7),(-.26,92),(-.05,91.8),(-.08,91.1),(-.3,90.5),(-.18,90.6),(.07,90),(-.27,89.2),(.19,88.2),(.31,88.1),(-.39,87.4),(-.02,86.2),(-.27,86.1),(-.18,84.2),(.28,84.6),(.37,84.7),(-.24,83.2),(.1,82.8),(-.19,82),(.06,80.8),(-.3,80.1),(.29,79.9),(-.04,79),(-.3,78),(.35,77.6),(.25,76.2),(.36,75.4),(-.3,74.7),(-.1,74.3),(.23,74),(.4,73.8),(-.36,72.2),(-.4,71.5),(.04,72.4),(-.1,71.5),(.11,71.5),(.01,70.6),(.36,70.4),(-.37,70.3),(.28,70.3),(.1,69.4),(-.07,68.2),(-.33,68.5),(-.3,67.3),(-.19,67),(.26,62.4),(-.24,61.5),(-.13,58.1),(0,53.6),(.26,51.5),(0,51),(-.1,49.4),(-.33,47.2),(.33,42.2),(-.1,40.6),(.03,40.8),(-.16,37.2),(.13,33.8),(.3,33.4),(.3,31.8),(.16,25.2),(.33,24.9),(.2,20.7)]

red["BT7"] = [(-.33,101.7),(-.29,101.3),(.19,101.8),(.35,101.6),(-.02,101.2),(-.11,100.7),(.33,101.3),(.1,100),(-.29,100.2),(-.38,99.5),(-.17,99.7),(-.41,98.9),(-.38,98.6),(.32,99.7),(.25,99.4),(-.33,97.1),(-.33,95.4),(.29,95.8),(.25,95),(-.26,93.4),(-.11,93.3),(.1,92.2),(-.41,91),(-.05,90.8),(.04,91.2),(.36,90.8),(-.02,89),(.1,88.9),(-.08,88.3),(.33,88),(-.11,87.2),(-.23,87),(-.32,86.6),(-.26,86),(.13,86.2),(-.38,86.5),(-.38,85),(-.05,85.1),(.1,84.9),(.32,84.5),(-.38,84),(-.23,83.6),(.04,84),(.22,83.6),(.38,83.6),(-.35,83.2),(-.14,83.3),(.1,83),(.29,83),(-.41,82.6),(-.26,82.5),(.38,82.8),(-.17,82),(.16,82.3),(-.05,84.5),(.13,84.3),(-.32,80),(-.17,80.4),(-.11,79.7),(-.4,78.8),(-.23,78.9),(.25,79.9),(.13,79.3),(.01,78.8),(-.05,78.1),(-.17,77.8),(.33,78.3),(.07,78.1),(-.14,77.5),(-.38,76.4),(-.23,76.4),(-.29,75.2),(.1,76.4),(.38,76),(.29,75.5),(-.26,74.7),(.04,74.6),(.22,74.7),(-.11,74.9),(-.4,73.7),(-.2,73.5),(.25,73.8),(-.23,72.3),(-.32,71.8),(.19,71.8),(.16,71.2),(-.17,71.2),(-.05,70.6),(-.11,69.5),(.25,69.9),(.09,67.4),(-.11,66.1),(-.4,66),(.39,66.6),(.16,65.2),(-.2,64.2),(.22,63.8),(-.23,63.2),(.09,62.9),(.03,58.6),(.16,53.1),(-.2,53.3),(0,37.2),(.16,34.7),(-.27,44.4),(-.33,84.6),(-.28,83.4),(-.2,84.8),(-.1,84.2),(0,85),(.03,83.3),(.06,82.6),(.16,84.9),(.2,83),(.25,84.6),(.3,82.6),(.33,83.8),(.38,85),(-.3,82.1),(-.12,82.4),(-.02,83.8),(.12,82.2),(.21,81.9),(-.22,82.9),(-.14,85)]
green["BT7"] = [(-.14,100.4),(-.38,101.2),(.03,99.4),(-.07,96.7),(.07,96.1),(.05,95.8),(-.23,95.3),(-.14,95.2),(-.2,94.7),(-.37,92.9),(-.2,92.6),(.16,92.7),(.36,92.9),(.36,92.1),(-.3,91.5),(-.02,91.6),(.19,91.2),(.06,90.3),(.3,90.3),(-.3,90.1),(-.17,89.2),(.25,89),(.29,88.2),(.24,86.3),(-.26,84.6),(-.17,84.7),(.27,84.6),(-.02,82.8),(.07,82),(-.37,81.9),(.35,81.9),(.25,82.1),(-.17,80.6),(-.26,79.7),(.38,79.7),(-.08,76.4),(.32,76.2),(.04,75.4),(-.11,74),(.09,73.7),(-.4,72.4),(-.14,71),(-.11,67),(.22,66.6),(.16,66.3),(-.33,65.4),(-.33,63.3),(0,61.5),(-.33,56.8),(-.4,55.8),(.16,56),(0,55.1),(.03,55.2),(-.07,50),(-.04,37)]

red["BT8"] = [(.36,100.2),(-.27,92.4),(.07,92.4),(-.22,84.7),(.16,84.2),(.13,83.1),(-.1,83.1),(-.07,82.6),(0,81.9),(-.4,79.8),(-.13,79.9),(-.04,80.5),(.12,80.4),(-.1,78.5),(-.37,77.7),(-.19,76.7),(-.28,76.4),(-.34,75.5),(-.4,75.7),(.05,76.4),(.3,76.4),(-.09,76.7),(-.34,74.7),(.12,74.9),(-.37,73.5),(-.1,71.2),(-.13,72),(.09,71.8),(.26,71.6),(-.34,70.9),(-.4,70.4),(.19,70.1),(.32,69.7),(-.04,67.9),(.19,67.9),(.36,68.2),(.36,67.4),(-.18,66.8),(.15,66.3),(-.28,65.2),(-.34,64.2),(.07,63.3),(.39,63.3),(-.01,62.4),(-.39,62.6),(.02,61.8),(.07,61.6),(-.28,61.3),(-.19,61.3),(-.28,59.7),(-.34,59),(.26,58.8),(-.18,57.9),(-.25,57.4),(-.34,57.4),(-.07,55.1),(-.18,54.9),(.22,54.5),(-.4,53.5),(.29,52.9),(.39,53.6),(-.2,51.3),(-.16,50.8),(.33,50.8),(-.33,49.7),(-.2,49.9),(.1,50),(.21,49.7),(.14,49.3),(-.33,49),(-.33,46.9),(.33,47),(.13,46.3),(-.3,44.9),(-.33,43.1),(.17,43.1),(-.2,41),(-.13,38.6),(.2,38.1),(-.03,36.1),(-.4,29),(-.03,25.4)]
green["BT8"] = [(-.24,88.6),(.07,88.4),(.36,88.1),(.29,86.6),(-.27,84.9),(-.14,84.9),(.13,85.1),(.33,84.7),(-.23,83.6),(-.27,82.9),(.29,83.6),(.36,82.6),(-.31,80.1),(-.16,80.4),(.09,80.7),(.24,80.2),(.02,79),(-.22,78.5),(.02,78.1),(-.25,77.8),(.24,76.7),(-.14,75.6),(-.04,74.6),(.24,75),(.09,75.1),(.15,74.4),(.05,73.9),(-.2,73.7),(.02,73.5),(.26,73.5),(-.23,72),(-.04,72),(.36,72),(-.04,69.7),(.05,69.4),(.26,69.4),(-.36,67.4),(-.31,66.4),(.12,67),(-.04,66.6),(.02,66.3),(.09,66.4),(.02,65.6),(.3,66),(.16,65.1),(-.36,65.2),(.36,64.2),(-.27,63.8),(.01,63.8),(.19,63.1),(-.27,62),(.33,61.5),(-.4,61.3),(.07,61),(-.4,59.9),(-.04,59.9),(.09,59.7),(.02,59.3),(-.13,58.6),(.02,58.6),(-.04,57.5),(.09,57.2),(.29,56.7),(-.3,55.1),(.23,54.3),(.29,53.3),(-.13,51.3),(.26,50.8),(-.17,48.8),(0,48.6),(-.17,47.6),(.2,47.4),(-.27,44.9),(-.17,42.9),(-.07,42.9)]

red["BT9"] = [(-.1,98.9),(-.4,92.7),(-.27,84.7),(-.15,84.9),(.27,84.9),(.17,83.8),(.37,82.9),(.16,81.9),(-.36,80.2),(-.1,80.2),(.34,80.4),(-.36,78.6),(.3,78.6),(.16,78.1),(-.01,77.7),(-.4,75.8),(-.16,75.5),(-.02,76.5),(-.21,73.8),(.28,74.1),(.1,72.5),(.22,71.8),(.28,71.8),(.19,71.2),(-.07,70.8),(.31,70.8),(-.01,70.1),(.19,69.9),(-.33,69.9),(.4,69.5),(-.12,67.9),(.23,67.8),(-.4,66.7),(-.24,66.3),(-.33,65.4),(-.08,66),(-.08,65.5),(-.1,64),(.3,62.7),(.4,62.4),(-.33,61.5),(-.33,61.1),(-.4,59.3),(-.05,58.5),(.07,58.4),(-.24,57.4),(.3,57.5),(-.27,55.8),(.13,55.8),(-.1,55.1),(.33,55.1),(-.23,54.7),(.05,54.3),(.22,53.8),(-.1,53.5),(.04,53.5),(.16,52.8),(0,49.6),(.26,49),(.07,44.7),(.3,44.4),(-.3,42.2),(-.07,40.6),(-.2,40.4),(-.33,38.5),(.23,37.7),(.36,36.8),(-.4,21.8)]
green["BT9"] = [(-.36,85.2),(-.3,83.3),(.07,81.9),(-.36,80.6),(.33,79.7),(-.3,79),(.07,79.3),(-.21,77.7),(.28,77.7),(.04,76.7),(.1,76.2),(.34,76.4),(.33,75.4),(-.05,75.7),(-.33,74.7),(-.36,74.3),(.04,74.7),(.1,74.2),(.16,73.6),(-.24,73.6),(-.15,71.6),(-.27,71.2),(-.21,71.3),(-.4,69.5),(-.13,69.4),(.13,70.1),(.3,69.6),(.1,68.2),(.01,67.6),(.22,66.8),(.04,66.4),(.07,67.1),(.04,63.8),(-.33,63.6),(-.22,62.7),(.27,63.5),(.39,60.9),(-.36,59.7),(-.18,59.3),(-.18,58.8),(.04,59.2),(-.37,58.4),(-.19,58.1),(.25,58.6),(.37,59),(-.07,57.5),(.3,57),(0,55.8),(.33,55.6),(-.2,54.7),(.07,54.5),(.13,53.3),(.33,49.4),(.26,45.6),(.26,45.2),(-.16,44.5),(.03,43.3),(.03,41.1),(-.33,37.7),(-.13,37.5)]


def columns(table):
    xs, ys = [], []
    for i, cat in enumerate(categories):
        for dx, y in table[cat]:
            xs.append(i + 1 + dx)
            ys.append(y)
    return ColumnDataSource(dict(x=xs, y=ys))


p = figure(width=1482, height=1058, output_backend="svg", toolbar_location=None,
           x_range=Range1d(0.398, 25.6), y_range=Range1d(10.7, 106.23),
           min_border_left=99, min_border_right=1, min_border_top=8, min_border_bottom=68,
           background_fill_color="#EBEBEB", border_fill_color="white", outline_line_color=None)

p.circle("x", "y", source=columns(red), radius=4.9, radius_units="screen", color="#CD5C45", line_width=0)
p.circle("x", "y", source=columns(green), radius=4.9, radius_units="screen", color="#5CCD00", line_width=0)

p.xaxis.ticker = FixedTicker(ticks=list(range(1, len(categories) + 1)))
p.xaxis.major_label_overrides = {i + 1: c for i, c in enumerate(categories)}
p.yaxis.ticker = FixedTicker(ticks=y_ticks, minor_ticks=y_minor)
p.xgrid.grid_line_color = "white"
p.xgrid.grid_line_width = 2
p.ygrid.grid_line_color = "white"
p.ygrid.grid_line_width = 2
p.ygrid.minor_grid_line_color = "white"
p.ygrid.minor_grid_line_width = 1

for ax in (p.xaxis[0], p.yaxis[0]):
    ax.axis_line_color = None
    ax.major_tick_line_color = "#333333"
    ax.major_tick_line_width = 1
    ax.major_tick_out = 4
    ax.major_tick_in = 0
    ax.minor_tick_line_color = None
    ax.major_label_text_color = "#4D4D4D"
    ax.major_label_text_font = "Liberation Sans"
    ax.major_label_text_font_size = "21px"
    ax.major_label_standoff = 4
    ax.axis_label_text_font = "Liberation Sans"
    ax.axis_label_text_font_size = "26px"
    ax.axis_label_text_font_style = "normal"
    ax.axis_label_text_color = "black"

p.xaxis.axis_label = x_title
p.xaxis.axis_label_standoff = 2
p.yaxis.axis_label = y_title
p.yaxis.axis_label_standoff = 5

open("out.html", "w").write(file_html(p, INLINE))
